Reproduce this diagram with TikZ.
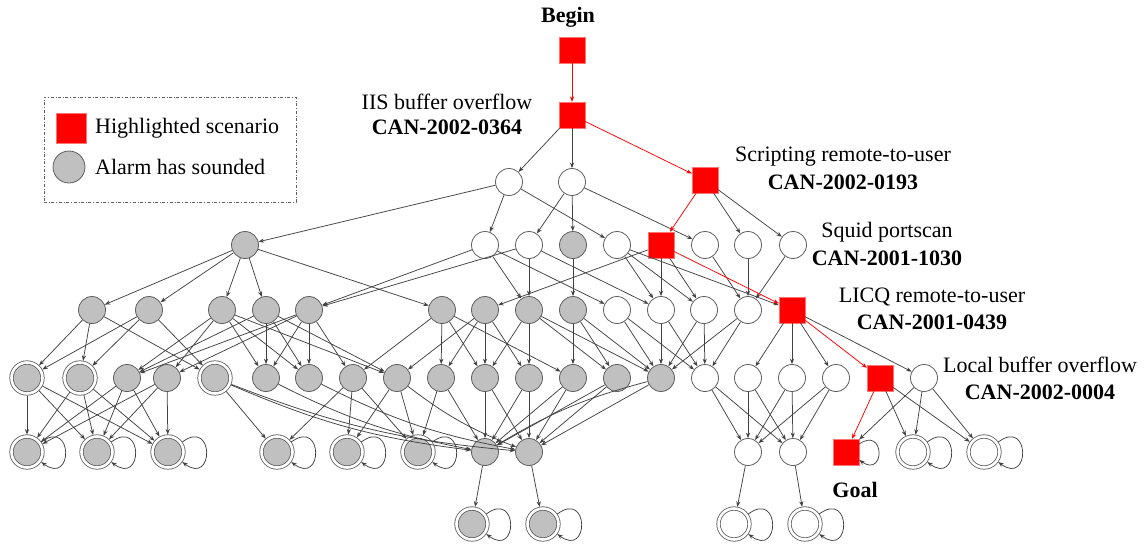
\documentclass[tikz,border=0pt]{standalone}
\usepackage{fontspec}
\setmainfont{Liberation Serif}[BoldFont={Liberation Serif Bold}]
\usetikzlibrary{arrows.meta}
\definecolor{edgec}{HTML}{424242}
\definecolor{alarm}{HTML}{C0C0C0}
\definecolor{rim}{HTML}{5E5E5E}
\definecolor{hl}{HTML}{FF0000}
\begin{document}
\begin{tikzpicture}[x=1pt,y=-1pt,
  st/.style={circle,inner sep=0pt,minimum size=27pt,draw=rim,line width=0.8pt,fill=white},
  gst/.style={st,fill=alarm},
  dst/.style={gst,minimum size=31pt,double=white,double distance=2.6pt,outer sep=2pt},
  dwst/.style={st,minimum size=31pt,double=white,double distance=2.6pt,outer sep=2pt},
  rs/.style={rectangle,fill=hl,minimum size=26pt,inner sep=0pt,draw=hl!55,line width=0.4pt},
  ed/.style={draw=edgec,line width=0.75pt,-{Stealth[length=5.5pt,width=4.2pt]}},
  hed/.style={ed,draw=hl},
  lab/.style={font=\fontsize{22}{25.5}\selectfont,align=center,inner sep=0pt},
  blab/.style={lab,font=\fontsize{22}{25.5}\selectfont\bfseries}]
\useasboundingbox (0,0) rectangle (1146,549);

% legend
\node[draw=rim,dash dot,line width=0.8pt,minimum width=252pt,minimum height=105pt,inner sep=0pt] (legend) at (170,149.5) {};
\node[rs,minimum size=30pt] (keyhl) at (71,128) {};
\node[gst,minimum size=32pt] (keyal) at (69,167) {};
\node[lab,anchor=west] (keyhltext) at (95,128) {Highlighted scenario};
\node[lab,anchor=west] (keyaltext) at (95,167) {Alarm has sounded};

% scenario states
\node[rs] (B) at (572,50) {};
\node[rs] (I) at (572,115) {};
\node[rs] (S1) at (705,180) {};
\node[rs] (S2) at (661,245) {};
\node[rs] (S3) at (792,310) {};
\node[rs] (S4) at (880,378) {};
\node[rs] (G) at (846,452) {};

% row 1
\node[st] (a1) at (509,182) {};
\node[st] (a2) at (572,182) {};
% row 2
\node[gst] (g0) at (245,245) {};
\node[st] (b1) at (485,245) {};
\node[st] (b2) at (529,245) {};
\node[gst] (b3) at (573,245) {};
\node[st] (b4) at (617,245) {};
\node[st] (b5) at (705,245) {};
\node[st] (b6) at (748,245) {};
\node[st] (b7) at (793,245) {};
% row 3
\foreach \n/\x in {c1/92,c2/149,c3/222,c4/266,c5/309,c6/442,c7/485,c8/529,c9/573}
  \node[gst] (\n) at (\x,310) {};
\foreach \n/\x in {c10/617,c11/661,c12/704,c13/748}
  \node[st] (\n) at (\x,310) {};
% row 4
\foreach \n/\x in {d1/27,d2/80,d5/215}
  \node[dst] (\n) at (\x,378) {};
\foreach \n/\x in {d3/127,d4/167,d6/266,d7/309,d8/353,d9/397,d10/441,d11/485,d12/529,d13/573,d14/617,d15/661}
  \node[gst] (\n) at (\x,378) {};
\foreach \n/\x in {d16/705,d17/748,d18/792,d19/836,d20/924}
  \node[st] (\n) at (\x,378) {};
% row 5
\foreach \n/\x in {e1/27,e2/97,e3/168,e4/277,e5/347,e6/418}
  \node[dst] (\n) at (\x,452) {};
\node[gst] (e7) at (485,452) {};
\node[gst] (e8) at (529,452) {};
\node[st] (e9) at (748,452) {};
\node[st] (e10) at (793,452) {};
\node[dwst] (e11) at (913,452) {};
\node[dwst] (e12) at (984,452) {};
% row 6
\node[dst] (f1) at (472,524) {};
\node[dst] (f2) at (543,524) {};
\node[dwst] (f3) at (734,524) {};
\node[dwst] (f4) at (805,524) {};

% labels
\node[blab] (tbegin) at (568,17) {Begin};
\node[lab] (tiis) at (447,102) {IIS buffer overflow};
\node[blab] (tiisid) at (447,127) {CAN-2002-0364};
\node[lab] (tscr) at (843,157) {Scripting remote-to-user};
\node[blab] (tscrid) at (843,182) {CAN-2002-0193};
\node[lab] (tsq) at (887,232) {Squid portscan};
\node[blab] (tsqid) at (887,258) {CAN-2001-1030};
\node[lab] (tlicq) at (932,297) {LICQ remote-to-user};
\node[blab] (tlicqid) at (932,322) {CAN-2001-0439};
\node[lab] (tloc) at (1040,365) {Local buffer overflow};
\node[blab] (tlocid) at (1040,392) {CAN-2002-0004};
\node[blab] (tgoal) at (855,490) {Goal};

% ordinary transitions
\foreach \s/\t in {I/a1,I/a2,a1/g0,a1/b1,a1/b4,a2/b2,a2/b3,a2/b5,S1/b6,S1/b7,
  g0/c1,g0/c2,g0/c3,g0/c4,g0/c6,b1/c5,b1/c8,b1/c10,b2/c5,b2/c8,b2/c11,b3/c9,
  b4/c11,b4/c12,b4/S3,S2/c7,S2/c11,S2/c12,b5/c13,b6/c13,b7/c13,
  c1/d1,c1/d2,c1/d5,c2/d1,c2/d2,c2/d5,
  c3/d3,c3/d4,c3/d6,c3/d7,c3/d9,c4/d3,c4/d6,c4/d7,c4/d9,
  c5/d3,c5/d4,c5/d6,c5/d7,c5/d8,
  c6/d8,c6/d10,c6/d11,c6/d13,c7/d9,c7/d10,c7/d11,c7/d12,
  c8/d11,c8/d12,c8/d14,c8/d15,c9/d13,c9/d14,c9/d15,
  c10/d15,c10/d16,c11/d15,c11/d16,c12/d15,c12/d16,c13/d15,c13/d16,
  S3/d17,S3/d18,S3/d19,S3/d20,
  d1/e1,d1/e2,d1/e3,d2/e1,d2/e2,d2/e3,d3/e1,d3/e2,d3/e3,d4/e1,d4/e2,d4/e3,
  d5/e4,d8/e4,d8/e5,d8/e6,d9/e5,d9/e6,d10/e6,d10/e7,
  d11/e7,d11/e8,d12/e7,d12/e8,d13/e7,d13/e8,d14/e7,d14/e8,d15/e8,
  d16/e9,d16/e10,d17/e9,d17/e10,d18/e9,d18/e10,d19/e9,d19/e10,
  S4/e11,S4/e12,d20/G,d20/e11,d20/e12,
  e7/f1,e8/f2,e9/f3,e10/f4}
  \draw[ed] (\s) -- (\t);
% long curved transitions
\foreach \s/\t in {d5/e7,d5/e8,d6/e7,d7/e8,d9/e8,d15/e7}
  \draw[ed] (\s) to[bend right=8] (\t);

% highlighted scenario
\foreach \s/\t in {B/I,I/S1,S1/S2,S2/S3,S3/S4,S4/G}
  \draw[hed] (\s) -- (\t);

% self-loops on absorbing states
\foreach \n in {e1,e2,e3,e4,e5,e6,f1,f2,e11,e12,f3,f4}
  \draw[ed] (\n.35) .. controls +(32,-24) and +(32,24) .. (\n.-35);
\draw[ed] ([yshift=8pt]G.east) .. controls +(26,-18) and +(26,18) .. ([yshift=-8pt]G.east);
\end{tikzpicture}
\end{document}
